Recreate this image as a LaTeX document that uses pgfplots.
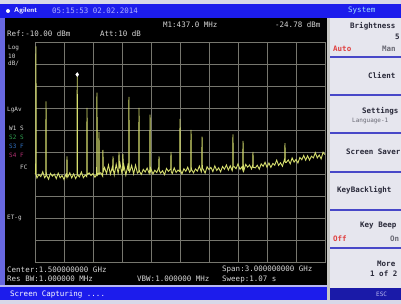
\documentclass[border=0pt]{standalone}
\usepackage{pgfplots}
\pgfplotsset{compat=1.18}
\usepackage{fontspec}
\setmonofont{DejaVu Sans Mono}
\definecolor{trace}{RGB}{214,222,110}
\definecolor{gridc}{RGB}{118,118,110}
\definecolor{topblue}{RGB}{28,28,236}
\definecolor{leftblue}{RGB}{104,104,224}
\definecolor{lav}{RGB}{184,184,240}
\definecolor{panel}{RGB}{230,230,238}
\definecolor{sepblue}{RGB}{72,72,200}
\definecolor{darkbar}{RGB}{26,26,168}
\definecolor{txt}{RGB}{214,214,214}
\definecolor{ptxt}{RGB}{40,40,56}
\definecolor{redt}{RGB}{224,64,64}
\definecolor{bordw}{RGB}{216,216,232}
\begin{document}
\begin{tikzpicture}[x=1pt,y=1pt,
  t/.style={anchor=west,inner sep=0pt,font=\ttfamily\fontsize{7.5}{8}\selectfont,text=txt},
  s/.style={anchor=west,inner sep=0pt,font=\ttfamily\fontsize{6}{7}\selectfont,text=txt},
  p/.style={anchor=west,inner sep=0pt,font=\ttfamily\bfseries\fontsize{7.5}{8}\selectfont,text=ptxt}]
\useasboundingbox (0,0) rectangle (401,304);
\fill[bordw] (0,0) rectangle (401,304);
\fill[topblue] (0,286) rectangle (401,300);
\fill[black] (5,19) rectangle (327,286);
\fill[leftblue] (0,17) rectangle (5,286);
\fill[lav] (0,17) rectangle (327,19);
\fill[topblue] (0,4) rectangle (327,17);
\fill[panel] (330,4) rectangle (401,286);
\fill[gridc!40!white] (327,4) rectangle (330,286);
\fill[darkbar] (330,4) rectangle (401,16);
\foreach \yy in {247,209,171,132,94,56} {\fill[sepblue] (330,\yy-1) rectangle (401,\yy+1);}
% title bar
\fill[white] (8,293) circle (2);
\node[t,text=white,font=\sffamily\bfseries\fontsize{7}{8}\selectfont] at (14,293) {Agilent};
\node[t,text={rgb,255:red,176;green,176;blue,255}] at (52,293) {05:15:53 02.02.2014};
\node[t,text={rgb,255:red,160;green,224;blue,255}] at (348,293) {System};
% screen texts
\node[t] at (163,279) {M1:437.0 MHz};
\node[t] at (275,279) {-24.78 dBm};
\node[t] at (7,270) {Ref:-10.00 dBm};
\node[t] at (100,270) {Att:10 dB};
\node[s] at (8,256) {Log};
\node[s] at (8,248) {10};
\node[s] at (8,240) {dB/};
\node[s] at (7,194) {LgAv};
\node[s] at (9,176) {W1 S};
\node[s,text={rgb,255:red,48;green,160;blue,80}] at (9,167) {S2 S};
\node[s,text={rgb,255:red,48;green,112;blue,192}] at (9,158) {S3 F};
\node[s,text={rgb,255:red,176;green,48;blue,112}] at (9,149) {S4 F};
\node[s] at (20,137) {FC};
\node[s] at (7,86) {ET-g};
\node[t] at (7,34) {Center:1.500000000 GHz};
\node[t] at (7,25) {Res BW:1.000000 MHz};
\node[t] at (137,25) {VBW:1.000000 MHz};
\node[t] at (222,34) {Span:3.000000000 GHz};
\node[t] at (222,25) {Sweep:1.07 s};
\node[t,text=white] at (10,10) {Screen Capturing ....};
\node[s,text=lav] at (376,10) {ESC};
% panel texts
\node[p] at (350,278) {Brightness};
\node[p] at (395,267) {5};
\node[p,text=redt] at (333,255) {Auto};
\node[p,text=ptxt!70] at (382,255) {Man};
\node[p] at (368,228) {Client};
\node[p] at (362,193) {Settings};
\node[s,text=ptxt!70] at (352,183) {Language-1};
\node[p] at (346,152) {Screen Saver};
\node[p] at (337,114) {KeyBacklight};
\node[p] at (360,78) {Key Beep};
\node[p,text=redt] at (333,65) {Off};
\node[p,text=ptxt!70] at (390,65) {On};
\node[p] at (377,40) {More};
\node[p] at (370,30) {1 of 2};
\begin{axis}[at={(35pt,42pt)},anchor=south west,width=290pt,height=220pt,scale only axis,
  xmin=0,xmax=3000,ymin=-110,ymax=-10,
  xtick={0,300,...,3000},ytick={-110,-100,...,-10},
  xticklabels={},yticklabels={},major tick length=0pt,
  grid=major,grid style={gridc,line width=0.6pt},
  axis line style={gridc,line width=0.6pt}]
\addplot[trace,line width=0.9pt,mark=none] coordinates {
(0,-69.6)(7,-70.0)(10,-12)(13,-70.5)(20,-71.8)(40,-70.2)(60,-71.2)(80,-69.0)(100,-71.7)
(111,-71.0)(114,-37)(117,-70.5)(120,-70.6)(140,-72.4)(160,-69.7)(180,-71.0)(200,-70.1)
(220,-72.1)(240,-69.6)(260,-71.7)(280,-70.7)(300,-72.5)(320,-70.2)(328,-71.3)(331,-62)(334,-70.8)
(340,-71.3)(360,-69.5)(380,-71.8)(400,-69.9)(420,-72.1)(434,-71.0)(437,-24.78)(440,-70.4)
(460,-71.3)(480,-69.1)(500,-71.7)(520,-70.5)(535,-71.2)(538,-40)(541,-70.3)(560,-69.5)
(580,-70.7)(600,-69.8)(620,-71.5)(638,-70.2)(641,-33)(644,-70.6)(659,-69.5)(662,-51)(665,-70.0)
(680,-69.4)(700,-71.0)(703,-59)(706,-69.0)(720,-67.1)(740,-69.8)(760,-65.9)(780,-70.1)
(800,-66.8)(804,-68.5)(807,-62)(810,-68.0)(820,-70.4)(840,-65.6)(860,-69.6)(866,-68.2)(869,-60)(872,-67.5)
(880,-65.3)(900,-69.9)(907,-67.0)(910,-61)(913,-68.5)(920,-66.2)(940,-70.5)(960,-66.2)
(969,-68.6)(972,-35)(975,-69.2)(980,-69.0)(1000,-66.1)(1020,-70.0)(1040,-66.0)(1060,-69.6)
(1073,-69.0)(1076,-40)(1079,-68.7)(1100,-70.2)(1120,-67.9)(1140,-69.1)(1160,-67.3)(1180,-69.6)
(1187,-68.2)(1190,-43)(1193,-69.0)(1200,-67.8)(1220,-70.0)(1240,-68.3)(1260,-69.3)
(1280,-67.0)(1283,-62)(1286,-68.5)(1300,-69.6)(1320,-68.5)(1340,-70.3)(1360,-67.5)(1380,-68.8)
(1400,-67.9)(1404,-68.0)(1407,-60)(1410,-69.0)(1420,-69.8)(1440,-67.2)(1460,-69.3)(1480,-68.2)
(1497,-68.9)(1500,-45)(1503,-68.0)(1520,-70.0)(1540,-67.6)(1560,-68.8)(1580,-66.9)(1600,-69.2)
(1611,-68.5)(1614,-50)(1617,-67.8)(1640,-69.5)(1660,-67.7)(1680,-68.7)(1700,-66.4)
(1720,-69.0)(1725,-68.0)(1728,-53)(1731,-67.5)(1740,-67.8)(1760,-69.6)(1780,-66.7)(1800,-68.0)
(1820,-67.0)(1840,-68.9)(1860,-66.3)(1880,-68.4)(1900,-67.2)(1920,-69.0)(1940,-66.6)(1960,-67.8)
(1980,-65.9)(2000,-68.2)(2020,-66.3)(2040,-68.5)(2045,-67.5)(2048,-52)(2051,-66.8)(2060,-66.7)
(2080,-67.6)(2100,-65.4)(2120,-67.9)(2140,-66.8)(2149,-68.0)(2152,-55)(2155,-66.5)(2160,-68.5)
(2180,-65.6)(2200,-66.9)(2220,-65.9)(2240,-67.7)(2252,-66.0)(2255,-60)(2258,-67.0)(2280,-67.2)
(2300,-66.0)(2320,-67.8)(2340,-65.4)(2360,-66.5)(2380,-64.7)(2400,-66.9)(2420,-65.0)(2440,-67.0)
(2460,-65.2)(2480,-66.0)(2500,-63.7)(2520,-66.1)(2540,-64.9)(2560,-66.5)(2580,-63.5)(2583,-64.5)
(2586,-56)(2589,-64.8)(2600,-64.7)(2620,-63.6)(2640,-65.4)(2660,-62.7)(2680,-64.6)(2700,-63.4)
(2720,-65.0)(2740,-62.5)(2760,-63.5)(2780,-61.6)(2800,-63.7)(2820,-61.7)(2840,-63.7)(2860,-61.9)
(2880,-62.7)(2900,-60.3)(2920,-62.7)(2940,-61.4)(2960,-63.1)(2980,-60.1)(3000,-61.2)
};
\addplot[only marks,mark=diamond*,mark size=2pt,white] coordinates {(437,-24.78)};
\end{axis}
\end{tikzpicture}
\end{document}
